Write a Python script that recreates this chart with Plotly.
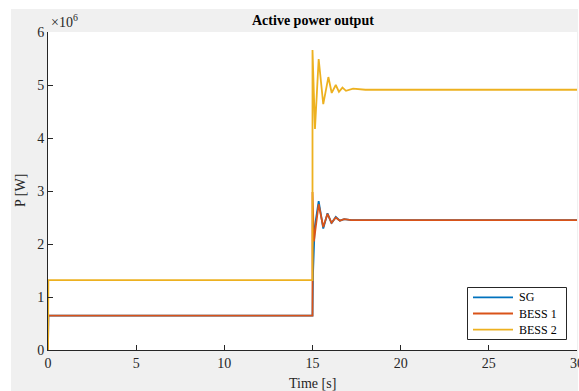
import plotly.graph_objects as go

# Data (values in units of 1e6 W)
sg_t = [0, 0.02, 15.0, 15.03, 15.12, 15.35, 15.61, 15.85, 16.08, 16.32, 16.55, 16.8, 17.2, 30]
sg_p = [0, 0.65, 0.65, 1.45, 2.30, 2.81, 2.29, 2.58, 2.39, 2.51, 2.44, 2.47, 2.45, 2.45]

b1_t = [0, 0.02, 15.0, 15.0, 15.08, 15.35, 15.61, 15.85, 16.08, 16.32, 16.55, 16.8, 17.2, 30]
b1_p = [0, 0.65, 0.65, 2.98, 2.05, 2.75, 2.32, 2.57, 2.40, 2.50, 2.44, 2.47, 2.45, 2.45]

b2_t = [0, 0.02, 15.0, 15.0, 15.14, 15.35, 15.61, 15.90, 16.09, 16.32, 16.5, 16.7, 16.9, 17.3, 18.0, 30]
b2_p = [0, 1.32, 1.32, 5.66, 4.17, 5.49, 4.64, 5.15, 4.85, 5.00, 4.87, 4.95, 4.89, 4.93, 4.91, 4.91]

series_names = ["SG", "BESS 1", "BESS 2"]
series_colors = ["#0072BD", "#D95319", "#EDB120"]

x_ticks = [0, 5, 10, 15, 20, 25, 30]
y_ticks = [0, 1, 2, 3, 4, 5, 6]

FONT = "Liberation Serif"
AX = "#262626"

fig = go.Figure()
for t, p, name, col in zip([sg_t, b1_t, b2_t], [sg_p, b1_p, b2_p], series_names, series_colors):
    fig.add_trace(go.Scatter(x=t, y=p, mode="lines", name=name,
                             line=dict(color=col, width=1.8)))

W, H = 579, 391
L, R, T, B = 48, 2, 32, 41

def px(x):
    return (x - L) / (W - L - R)

def py(y):
    return (H - B - y) / (H - T - B)

shapes = [
    dict(type="rect", xref="paper", yref="paper", x0=px(-5), x1=px(590), y0=py(9), y1=py(-5),
         fillcolor="white", line=dict(width=0), layer="below"),
    dict(type="rect", xref="paper", yref="paper", x0=px(-5), x1=px(11), y0=py(400), y1=py(-5),
         fillcolor="white", line=dict(width=0), layer="below"),
    dict(type="rect", xref="paper", yref="paper", x0=px(578), x1=px(590), y0=py(400), y1=py(-5),
         fillcolor="white", line=dict(width=0), layer="below"),
    # legend box
    dict(type="rect", xref="paper", yref="paper", x0=px(467.5), x1=px(566.5), y0=py(339.5), y1=py(287.5),
         fillcolor="white", line=dict(color=AX, width=1), layer="above"),
]

annotations = [
    dict(text="<b>Active power output</b>", x=0.5, y=py(20), xref="paper", yref="paper",
         showarrow=False, xanchor="center", yanchor="middle",
         font=dict(family=FONT, size=14, color="black")),
    dict(text="Time [s]", x=0.5, y=py(383), xref="paper", yref="paper",
         showarrow=False, xanchor="center", yanchor="middle",
         font=dict(family=FONT, size=14, color=AX)),
    dict(text="P [W]", x=px(20), y=py(191), xref="paper", yref="paper",
         showarrow=False, xanchor="center", yanchor="middle", textangle=-90,
         font=dict(family=FONT, size=14, color=AX)),
    dict(text="\u00d710<sup>6</sup>", x=px(49), y=py(21), xref="paper", yref="paper",
         showarrow=False, xanchor="left", yanchor="middle",
         font=dict(family=FONT, size=14, color=AX)),
]

leg_y = [297.3, 313.5, 329.7]
for name, col, yy in zip(series_names, series_colors, leg_y):
    shapes.append(dict(type="line", xref="paper", yref="paper", x0=px(473), x1=px(513),
                       y0=py(yy), y1=py(yy), line=dict(color=col, width=1.8), layer="above"))
    annotations.append(dict(text=name, x=px(517), y=py(yy), xref="paper", yref="paper",
                            showarrow=False, xanchor="left", yanchor="middle",
                            font=dict(family=FONT, size=12, color="black")))

fig.update_layout(
    width=W, height=H,
    margin=dict(l=L, r=R, t=T, b=B, autoexpand=False),
    paper_bgcolor="#F0F0F0",
    plot_bgcolor="white",
    font=dict(family=FONT, size=14, color=AX),
    showlegend=False,
    xaxis=dict(range=[0, 30], tickvals=x_ticks, ticktext=[str(v) for v in x_ticks],
               showline=True, linecolor=AX, linewidth=1, showgrid=False, zeroline=False,
               ticks="inside", ticklen=5, tickcolor=AX, tickfont=dict(size=14, color=AX),
               ticklabeloverflow="allow", automargin=False),
    yaxis=dict(range=[0, 6], tickvals=y_ticks, ticktext=[str(v) for v in y_ticks],
               showline=True, linecolor=AX, linewidth=1, showgrid=False, zeroline=False,
               ticks="inside", ticklen=5, tickcolor=AX, tickfont=dict(size=14, color=AX),
               ticklabeloverflow="allow", automargin=False),
    shapes=shapes,
    annotations=annotations,
)

fig.write_html("out.html", config={"displayModeBar": False},
               post_script="document.body.style.margin='0';document.body.style.overflow='hidden';")
